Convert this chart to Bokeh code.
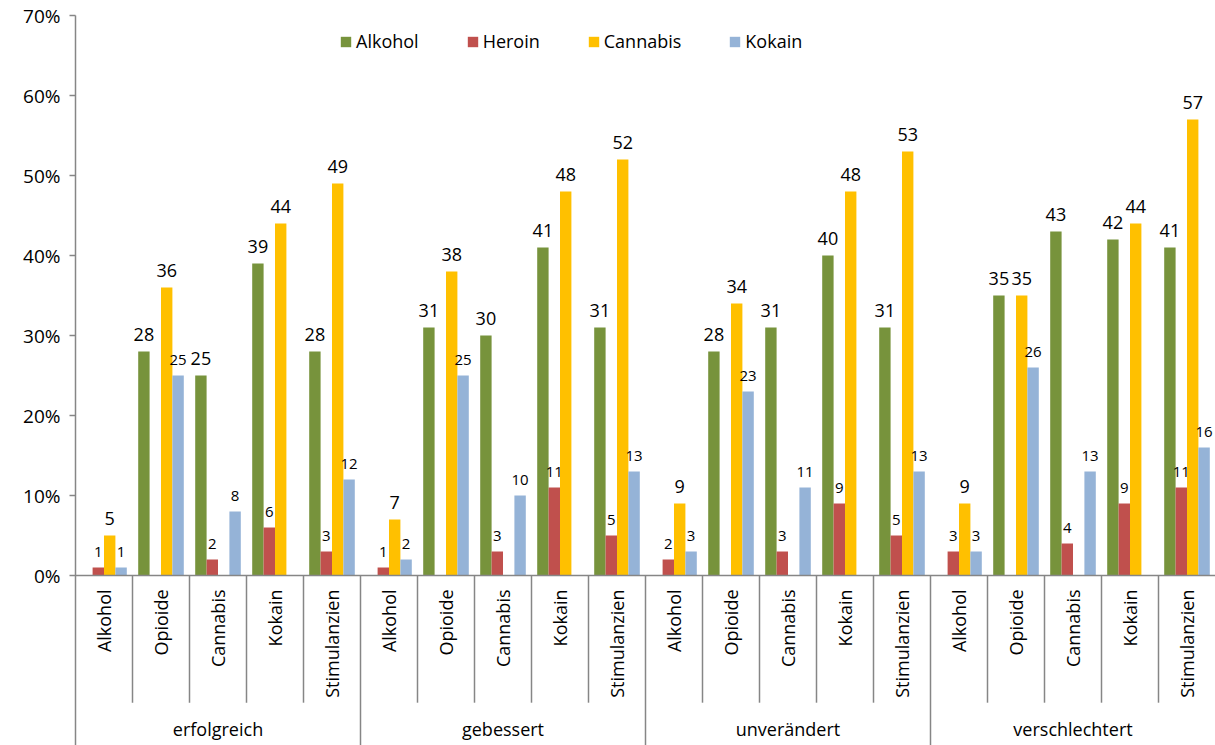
import numpy as np
from bokeh.plotting import figure
from bokeh.models import (ColumnDataSource, FixedTicker, PrintfTickFormatter, Range1d,
                          Legend, LegendItem)
from bokeh.core.properties import value
from bokeh.embed import file_html
from bokeh.resources import INLINE

groups = ["erfolgreich", "gebessert", "unverändert", "verschlechtert"]
subcats = ["Alkohol", "Opioide", "Cannabis", "Kokain", "Stimulanzien"]
series = ["Alkohol", "Heroin", "Cannabis", "Kokain"]
colors = ["#77933C", "#C0504D", "#FFC000", "#95B3D7"]
y_ticks = [0, 10, 20, 30, 40, 50, 60, 70]

# values per series, ordered group by group, subcategory by subcategory (None = no bar)
alkohol = [None, 28, 25, 39, 28,
           None, 31, 30, 41, 31,
           None, 28, 31, 40, 31,
           None, 35, 43, 42, 41]
heroin = [1, None, 2, 6, 3,
          1, None, 3, 11, 5,
          2, None, 3, 9, 5,
          3, None, 4, 9, 11]
cannabis = [5, 36, None, 44, 49,
            7, 38, None, 48, 52,
            9, 34, None, 48, 53,
            9, 35, None, 44, 57]
kokain = [1, 25, 8, None, 12,
          2, 25, 10, None, 13,
          3, 23, 11, None, 13,
          3, 26, 13, None, 16]
values = [alkohol, heroin, cannabis, kokain]
label_sizes = ["18px", "15px", "18px", "15px"]

FONT = "Open Sans"
AXIS_COLOR = "#868686"
n_cat = len(groups) * len(subcats)

p = figure(width=1215, height=745, output_backend="svg", toolbar_location=None,
           x_range=Range1d(0, n_cat), y_range=Range1d(-21.25, 70),
           min_border_left=75, min_border_right=0, min_border_top=15, min_border_bottom=0,
           outline_line_color=None, x_axis_location=None)
p.grid.visible = False
p.background_fill_color = "white"

yax = p.yaxis[0]
yax.ticker = FixedTicker(ticks=y_ticks)
yax.formatter = PrintfTickFormatter(format="%d%%")
yax.axis_line_color = AXIS_COLOR
yax.axis_line_width = 1.5
yax.major_tick_line_color = AXIS_COLOR
yax.major_tick_line_width = 1.5
yax.major_tick_in = 0
yax.major_tick_out = 6
yax.minor_tick_line_color = None
yax.major_label_text_font = FONT
yax.major_label_text_font_size = "19px"
yax.major_label_text_color = "#000000"
yax.major_label_standoff = 9

bar_w = 0.2
offsets = [-0.3, -0.1, 0.1, 0.3]
legend_items = []
for name, vals, col, fs, off in zip(series, values, colors, label_sizes, offsets):
    xs = [i + 0.5 + off for i, v in enumerate(vals) if v is not None]
    ys = [v for v in vals if v is not None]
    src = ColumnDataSource(dict(x=xs, top=ys, lab=[str(v) for v in ys]))
    r = p.vbar(x="x", top="top", bottom=0, width=bar_w, source=src,
               fill_color=col, line_color=None)
    p.text(x="x", y="top", text="lab", source=src, text_align="center",
           text_baseline="bottom", y_offset=-11, text_font=value(FONT),
           text_font_size=fs, text_color="#000000")
    legend_items.append(LegendItem(label=name, renderers=[r]))

# x axis line
p.segment(x0=[0], y0=[0], x1=[n_cat], y1=[0], line_color=AXIS_COLOR, line_width=1.5)
# separators
sub_x = [i for i in range(1, n_cat) if i % len(subcats) != 0]
grp_x = [i for i in range(0, n_cat) if i % len(subcats) == 0 and i > 0]
p.segment(x0=sub_x, y0=[0] * len(sub_x), x1=sub_x, y1=[-15.9] * len(sub_x),
          line_color=AXIS_COLOR, line_width=1.5)
p.segment(x0=grp_x, y0=[0] * len(grp_x), x1=grp_x, y1=[-21.25] * len(grp_x),
          line_color=AXIS_COLOR, line_width=1.5)

# subcategory labels (vertical)
cat_x = [i + 0.5 for i in range(n_cat)]
cat_lab = [subcats[i % len(subcats)] for i in range(n_cat)]
p.text(x=cat_x, y=[0] * n_cat, text=cat_lab, angle=np.pi / 2, text_align="right",
       text_baseline="middle", y_offset=14, text_font=value(FONT), text_font_size="18px",
       text_color="#000000")
# group labels
gx = [g * len(subcats) + len(subcats) / 2 for g in range(len(groups))]
p.text(x=gx, y=[0] * len(groups), text=groups, text_align="center", text_baseline="middle",
       y_offset=153, text_font=value(FONT), text_font_size="18px", text_color="#000000")

legend = Legend(items=legend_items, orientation="horizontal", location=(264, 692),
                spacing=47, glyph_width=13, glyph_height=13, label_standoff=4,
                label_text_font=FONT, label_text_font_size="18px", label_text_color="#000000",
                border_line_color=None, background_fill_alpha=0, padding=0, margin=0)
p.add_layout(legend, "center")

open("out.html", "w").write(file_html(p, INLINE))
